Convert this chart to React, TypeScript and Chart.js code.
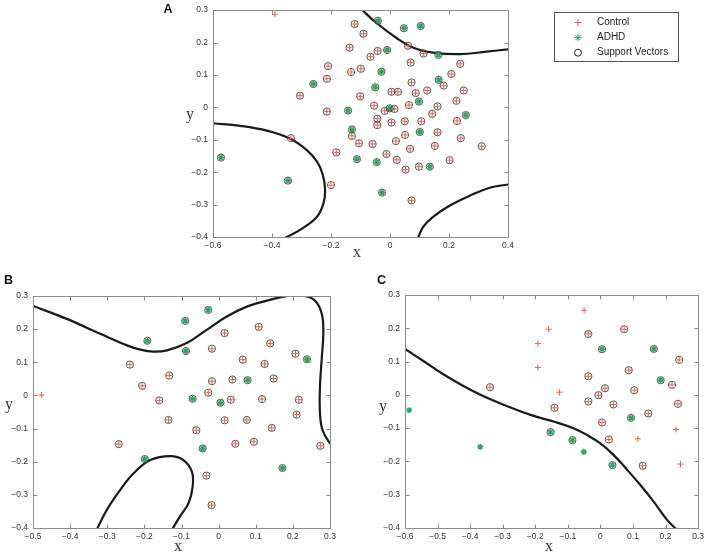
import React, { useEffect, useRef } from 'react';
import { Chart, registerables } from 'chart.js';
Chart.register(...registerables);

type P = [number, number];

// ---------- Panel A ----------
const aXTicks = [-0.6, -0.4, -0.2, 0, 0.2, 0.4];
const aYTicks = [-0.4, -0.3, -0.2, -0.1, 0, 0.1, 0.2, 0.3];
const aControlOnly: P[] = [[-0.39, 0.287]];
const aControlSV: P[] = [
  [-0.12, 0.257], [-0.09, 0.227], [-0.137, 0.184], [-0.042, 0.174], [-0.066, 0.156], [0.061, 0.19],
  [0.114, 0.166], [0.07, 0.138], [0.238, 0.134], [-0.21, 0.127], [-0.132, 0.109], [-0.099, 0.119],
  [0.208, 0.103], [-0.214, 0.088], [0.073, 0.077], [0.182, 0.067], [-0.305, 0.036], [-0.101, 0.034],
  [0.005, 0.048], [0.027, 0.048], [0.087, 0.044], [0.126, 0.052], [0.25, 0.052], [0.225, 0.02],
  [-0.054, 0.005], [0.064, 0.007], [0.161, 0.003], [-0.214, -0.013], [-0.018, -0.011], [0.015, -0.005],
  [0.143, -0.02], [-0.043, -0.035], [-0.043, -0.055], [0.005, -0.047], [0.05, -0.043], [0.106, -0.043],
  [0.227, -0.042], [-0.336, -0.095], [-0.129, -0.088], [0.051, -0.085], [0.161, -0.077], [0.24, -0.095],
  [-0.105, -0.111], [-0.059, -0.113], [0.02, -0.104], [0.152, -0.119], [0.311, -0.12], [0.068, -0.128],
  [-0.182, -0.139], [-0.012, -0.144], [0.023, -0.162], [0.202, -0.163], [0.098, -0.183], [0.053, -0.192],
  [-0.2, -0.24], [0.073, -0.287],
];
const aAdhdOnly: P[] = [];
const aAdhdSV: P[] = [
  [-0.041, 0.267], [0.047, 0.244], [0.104, 0.251], [-0.01, 0.177], [0.164, 0.162], [-0.029, 0.11],
  [-0.26, 0.072], [0.165, 0.085], [-0.05, 0.062], [0.098, 0.018], [-0.001, -0.003], [-0.142, -0.01],
  [0.257, -0.024], [-0.129, -0.068], [0.101, -0.076], [-0.112, -0.16], [-0.045, -0.169], [0.135, -0.183],
  [-0.573, -0.155], [-0.346, -0.226], [-0.027, -0.263],
];
const aCurveTop: P[] = [
  [-0.1, 0.307], [-0.093, 0.3], [-0.051, 0.264], [0.022, 0.214], [0.079, 0.184], [0.146, 0.169],
  [0.237, 0.164], [0.327, 0.172], [0.4, 0.179],
];
const aCurveLeft: P[] = [
  [-0.6, -0.049], [-0.508, -0.057], [-0.417, -0.072], [-0.338, -0.097], [-0.282, -0.132], [-0.248, -0.167],
  [-0.228, -0.207], [-0.22, -0.255], [-0.226, -0.298], [-0.248, -0.338], [-0.305, -0.378], [-0.35, -0.4],
  [-0.37, -0.41],
];
const aCurveRight: P[] = [
  [0.09, -0.41], [0.096, -0.4], [0.113, -0.368], [0.146, -0.338], [0.203, -0.303], [0.27, -0.273],
  [0.338, -0.248], [0.4, -0.238],
];

// ---------- Panel B ----------
const bXTicks = [-0.5, -0.4, -0.3, -0.2, -0.1, 0, 0.1, 0.2, 0.3];
const bYTicks = [-0.4, -0.3, -0.2, -0.1, 0, 0.1, 0.2, 0.3];
const bControlOnly: P[] = [[-0.477, 0.001]];
const bControlSV: P[] = [
  [0.016, 0.188], [0.108, 0.207], [0.139, 0.157], [-0.018, 0.141], [0.207, 0.126], [0.065, 0.108],
  [0.124, 0.095], [-0.239, 0.093], [-0.133, 0.06], [-0.018, 0.043], [0.037, 0.048], [0.148, 0.051],
  [-0.206, 0.029], [-0.028, 0.008], [-0.16, -0.015], [0.033, -0.013], [0.117, -0.011], [0.216, -0.013],
  [-0.135, -0.074], [0.016, -0.075], [0.076, -0.074], [0.21, -0.058], [-0.06, -0.105], [0.143, -0.098],
  [0.045, -0.146], [0.095, -0.14], [-0.269, -0.147], [0.274, -0.152], [-0.033, -0.242], [-0.019, -0.331],
];
const bAdhdOnly: P[] = [];
const bAdhdSV: P[] = [
  [-0.028, 0.258], [-0.09, 0.225], [-0.192, 0.165], [-0.088, 0.134], [0.238, 0.109], [0.078, 0.046],
  [-0.07, -0.01], [0.005, -0.022], [-0.043, -0.16], [-0.199, -0.192], [0.172, -0.219],
];
const bCurveTop: P[] = [
  [-0.5, 0.27], [-0.409, 0.231], [-0.319, 0.186], [-0.247, 0.151], [-0.211, 0.138], [-0.175, 0.132],
  [-0.139, 0.136], [-0.086, 0.158], [-0.032, 0.198], [0.022, 0.238], [0.076, 0.268], [0.13, 0.286],
  [0.174, 0.298], [0.205, 0.303], [0.233, 0.3], [0.26, 0.286], [0.278, 0.246], [0.282, 0.186],
  [0.278, 0.116], [0.273, 0.026], [0.273, -0.054], [0.28, -0.105], [0.3, -0.145], [0.31, -0.155],
];
const bCurveLoop: P[] = [
  [-0.33, -0.41], [-0.326, -0.4], [-0.301, -0.345], [-0.265, -0.285], [-0.229, -0.235], [-0.184, -0.195],
  [-0.13, -0.183], [-0.095, -0.195], [-0.072, -0.23], [-0.07, -0.275], [-0.081, -0.325], [-0.104, -0.365],
  [-0.123, -0.4], [-0.128, -0.41],
];

// ---------- Panel C ----------
const cXTicks = [-0.6, -0.5, -0.4, -0.3, -0.2, -0.1, 0, 0.1, 0.2, 0.3];
const cYTicks = [-0.4, -0.3, -0.2, -0.1, 0, 0.1, 0.2, 0.3];
const cControlOnly: P[] = [
  [-0.05, 0.254], [-0.159, 0.197], [-0.192, 0.154], [-0.192, 0.082], [-0.126, 0.008], [0.232, -0.104],
  [0.115, -0.132], [0.246, -0.208],
];
const cControlSV: P[] = [
  [0.073, 0.197], [-0.037, 0.183], [0.242, 0.105], [0.087, 0.074], [-0.037, 0.056], [0.22, 0.03],
  [0.014, 0.02], [0.104, 0.014], [-0.339, 0.023], [-0.006, -0.001], [-0.141, -0.039], [-0.037, -0.02],
  [0.04, -0.029], [0.238, -0.027], [0.147, -0.056], [0.005, -0.083], [0.026, -0.134], [0.13, -0.213],
];
const cAdhdOnly: P[] = [[-0.587, -0.046], [-0.369, -0.156], [-0.051, -0.171]];
const cAdhdSV: P[] = [
  [0.005, 0.137], [0.164, 0.138], [0.185, 0.044], [0.094, -0.069], [-0.153, -0.112], [-0.086, -0.136],
  [0.037, -0.211],
];
const cCurve: P[] = [
  [-0.6, 0.138], [-0.547, 0.104], [-0.486, 0.064], [-0.425, 0.029], [-0.365, -0.001], [-0.294, -0.031],
  [-0.212, -0.061], [-0.141, -0.081], [-0.081, -0.101], [-0.04, -0.121], [0.0, -0.146], [0.041, -0.181],
  [0.082, -0.225], [0.122, -0.27], [0.163, -0.32], [0.204, -0.375], [0.229, -0.4], [0.237, -0.41],
];

const legendLabels = ['Control', 'ADHD', 'Support Vectors'];

// ---------- styling ----------
const W = 708;
const H = 553;
const RED = '#ee5a4f';
const GREEN = '#26a864';
const SV_COLOR = '#4f4545';
const AXIS = '#8a8a8a';
const TICK_FONT = { size: 8.5, family: '"Liberation Sans", Arial, sans-serif' };
const Y_AXIS_W = 30;
const X_AXIS_H = 16;

const fmt = (v: number) => {
  const r = Math.round(v * 10) / 10;
  if (Math.abs(r) < 1e-9) return '0';
  return r.toFixed(1).replace('-', '\u2212');
};

const toXY = (pts: P[]) => pts.map(([x, y]) => ({ x, y }));

const decorPlugin = {
  id: 'decor',
  afterDraw(chart: any, _args: any, opts: any) {
    const { ctx, chartArea: a, scales } = chart;
    ctx.save();
    // box
    ctx.strokeStyle = AXIS;
    ctx.lineWidth = 1;
    const L = Math.round(a.left) + 0.5, R = Math.round(a.right) + 0.5;
    const T = Math.round(a.top) + 0.5, B = Math.round(a.bottom) + 0.5;
    ctx.strokeRect(L, T, R - L, B - T);
    // inward ticks
    const tl = 4;
    ctx.beginPath();
    for (const t of scales.x.ticks) {
      const px = Math.round(scales.x.getPixelForValue(t.value)) + 0.5;
      ctx.moveTo(px, B); ctx.lineTo(px, B - tl);
      ctx.moveTo(px, T); ctx.lineTo(px, T + tl);
    }
    for (const t of scales.y.ticks) {
      const py = Math.round(scales.y.getPixelForValue(t.value)) + 0.5;
      ctx.moveTo(L, py); ctx.lineTo(L + tl, py);
      ctx.moveTo(R, py); ctx.lineTo(R - tl, py);
    }
    ctx.stroke();
    // axis titles
    ctx.fillStyle = '#333';
    ctx.textAlign = 'center';
    ctx.textBaseline = 'middle';
    ctx.font = '16px "Liberation Serif", "DejaVu Serif", serif';
    ctx.fillText('x', opts.xTitle[0], opts.xTitle[1]);
    ctx.fillText('y', opts.yTitle[0], opts.yTitle[1]);
    // panel letter
    ctx.fillStyle = '#111';
    ctx.font = 'bold 12.5px "Liberation Sans", Arial, sans-serif';
    ctx.fillText(opts.panel, opts.panelPos[0], opts.panelPos[1]);
    // legend
    if (opts.legend) {
      const lg = opts.legend;
      ctx.strokeStyle = '#555';
      ctx.lineWidth = 1;
      ctx.strokeRect(lg.left + 0.5, lg.top + 0.5, lg.right - lg.left, lg.bottom - lg.top);
      const mx = lg.markerX;
      const r = 3.5;
      // Control +
      let y = lg.rows[0];
      ctx.strokeStyle = RED; ctx.lineWidth = 1;
      ctx.beginPath();
      ctx.moveTo(mx - r, y); ctx.lineTo(mx + r, y);
      ctx.moveTo(mx, y - r); ctx.lineTo(mx, y + r);
      ctx.stroke();
      // ADHD *
      y = lg.rows[1];
      ctx.strokeStyle = GREEN;
      ctx.beginPath();
      ctx.moveTo(mx - r, y); ctx.lineTo(mx + r, y);
      ctx.moveTo(mx, y - r); ctx.lineTo(mx, y + r);
      const d = r * 0.707;
      ctx.moveTo(mx - d, y - d); ctx.lineTo(mx + d, y + d);
      ctx.moveTo(mx - d, y + d); ctx.lineTo(mx + d, y - d);
      ctx.stroke();
      // SV o
      y = lg.rows[2];
      ctx.strokeStyle = '#222';
      ctx.beginPath();
      ctx.arc(mx, y, r, 0, Math.PI * 2);
      ctx.stroke();
      ctx.fillStyle = '#222';
      ctx.textAlign = 'left';
      ctx.font = '10px "Liberation Sans", Arial, sans-serif';
      legendLabels.forEach((lab, i) => ctx.fillText(lab, lg.textX, lg.rows[i]));
    }
    ctx.restore();
  },
};

type Spec = {
  area: { l: number; r: number; t: number; b: number };
  xMin: number; xMax: number; yMin: number; yMax: number;
  xTicks: number[]; yTicks: number[];
  controlOnly: P[]; controlSV: P[]; adhdOnly: P[]; adhdSV: P[];
  curves: P[][];
  decor: any;
};

function makeConfig(s: Spec): any {
  const curveDs = s.curves.map((c) => ({
    label: 'boundary',
    data: toXY(c),
    showLine: true,
    borderColor: '#1a1a1a',
    borderWidth: 2.2,
    pointRadius: 0,
    tension: 0.4,
    fill: false,
  }));
  const datasets = [
    {
      label: legendLabels[2],
      data: toXY([...s.controlSV, ...s.adhdSV]),
      pointStyle: 'circle',
      pointRadius: 3.6,
      borderColor: SV_COLOR,
      backgroundColor: 'rgba(0,0,0,0)',
      borderWidth: 0.9,
    },
    {
      label: legendLabels[1],
      data: toXY([...s.adhdOnly, ...s.adhdSV]),
      pointStyle: 'star',
      pointRadius: 3,
      borderColor: GREEN,
      backgroundColor: GREEN,
      borderWidth: 1.4,
    },
    {
      label: legendLabels[0],
      data: toXY([...s.controlOnly, ...s.controlSV]),
      pointStyle: 'cross',
      pointRadius: 3,
      borderColor: RED,
      backgroundColor: RED,
      borderWidth: 1,
    },
    ...curveDs,
  ];
  return {
    type: 'scatter',
    data: { datasets },
    plugins: [decorPlugin],
    options: {
      animation: false,
      responsive: false,
      maintainAspectRatio: false,
      devicePixelRatio: 1,
      events: [],
      layout: {
        padding: {
          left: s.area.l - Y_AXIS_W,
          right: W - s.area.r,
          top: s.area.t,
          bottom: H - s.area.b - X_AXIS_H,
        },
      },
      elements: { line: { capBezierPoints: false } },
      plugins: {
        legend: { display: false },
        tooltip: { enabled: false },
        decor: s.decor,
      },
      scales: {
        x: {
          type: 'linear',
          min: s.xMin,
          max: s.xMax,
          afterBuildTicks: (sc: any) => { sc.ticks = s.xTicks.map((v) => ({ value: v })); },
          afterFit: (sc: any) => { sc.height = X_AXIS_H; },
          ticks: {
            callback: (v: any) => fmt(Number(v)),
            font: TICK_FONT,
            color: '#333',
            padding: 4,
            autoSkip: false,
            maxRotation: 0,
            minRotation: 0,
          },
          grid: { display: false, drawTicks: false, tickLength: 0 },
          border: { display: false },
        },
        y: {
          type: 'linear',
          min: s.yMin,
          max: s.yMax,
          afterBuildTicks: (sc: any) => { sc.ticks = s.yTicks.map((v) => ({ value: v })); },
          afterFit: (sc: any) => { sc.width = Y_AXIS_W; },
          ticks: {
            callback: (v: any) => fmt(Number(v)),
            font: TICK_FONT,
            color: '#333',
            padding: 5,
            autoSkip: false,
          },
          grid: { display: false, drawTicks: false, tickLength: 0 },
          border: { display: false },
        },
      },
    },
  };
}

const specA: Spec = {
  area: { l: 213, r: 508, t: 5, b: 237 },
  xMin: -0.6, xMax: 0.4, yMin: -0.4, yMax: 0.3,
  xTicks: aXTicks, yTicks: aYTicks,
  controlOnly: aControlOnly, controlSV: aControlSV, adhdOnly: aAdhdOnly, adhdSV: aAdhdSV,
  curves: [aCurveTop, aCurveLeft, aCurveRight],
  decor: {
    xTitle: [357, 253], yTitle: [190, 115], panel: 'A', panelPos: [168, 9.5],
    legend: { left: 554, right: 678, top: 12, bottom: 61, markerX: 578, textX: 597, rows: [22.5, 37.7, 52.7] },
  },
};

const specB: Spec = {
  area: { l: 33, r: 330, t: 296, b: 528 },
  xMin: -0.5, xMax: 0.3, yMin: -0.4, yMax: 0.3,
  xTicks: bXTicks, yTicks: bYTicks,
  controlOnly: bControlOnly, controlSV: bControlSV, adhdOnly: bAdhdOnly, adhdSV: bAdhdSV,
  curves: [bCurveTop, bCurveLoop],
  decor: { xTitle: [178, 547], yTitle: [9, 405], panel: 'B', panelPos: [8.5, 281] },
};

const specC: Spec = {
  area: { l: 405, r: 701, t: 295, b: 528 },
  xMin: -0.6, xMax: 0.3, yMin: -0.4, yMax: 0.3,
  xTicks: cXTicks, yTicks: cYTicks,
  controlOnly: cControlOnly, controlSV: cControlSV, adhdOnly: cAdhdOnly, adhdSV: cAdhdSV,
  curves: [cCurve],
  decor: { xTitle: [549, 547], yTitle: [383, 407], panel: 'C', panelPos: [381.5, 281] },
};

const canvasStyle: React.CSSProperties = { position: 'absolute', left: 0, top: 0, width: W, height: H };

export default function App() {
  const refA = useRef<HTMLCanvasElement>(null);
  const refB = useRef<HTMLCanvasElement>(null);
  const refC = useRef<HTMLCanvasElement>(null);

  useEffect(() => {
    const charts: Chart[] = [];
    const pairs: [HTMLCanvasElement | null, Spec][] = [
      [refA.current, specA],
      [refB.current, specB],
      [refC.current, specC],
    ];
    for (const [cv, spec] of pairs) {
      if (cv) charts.push(new Chart(cv, makeConfig(spec)));
    }
    return () => charts.forEach((c) => c.destroy());
  }, []);

  return (
    <div style={{ position: 'absolute', left: 0, top: 0, width: W, height: H, background: '#fff', overflow: 'hidden' }}>
      <canvas ref={refA} width={W} height={H} style={canvasStyle} />
      <canvas ref={refB} width={W} height={H} style={canvasStyle} />
      <canvas ref={refC} width={W} height={H} style={canvasStyle} />
    </div>
  );
}
